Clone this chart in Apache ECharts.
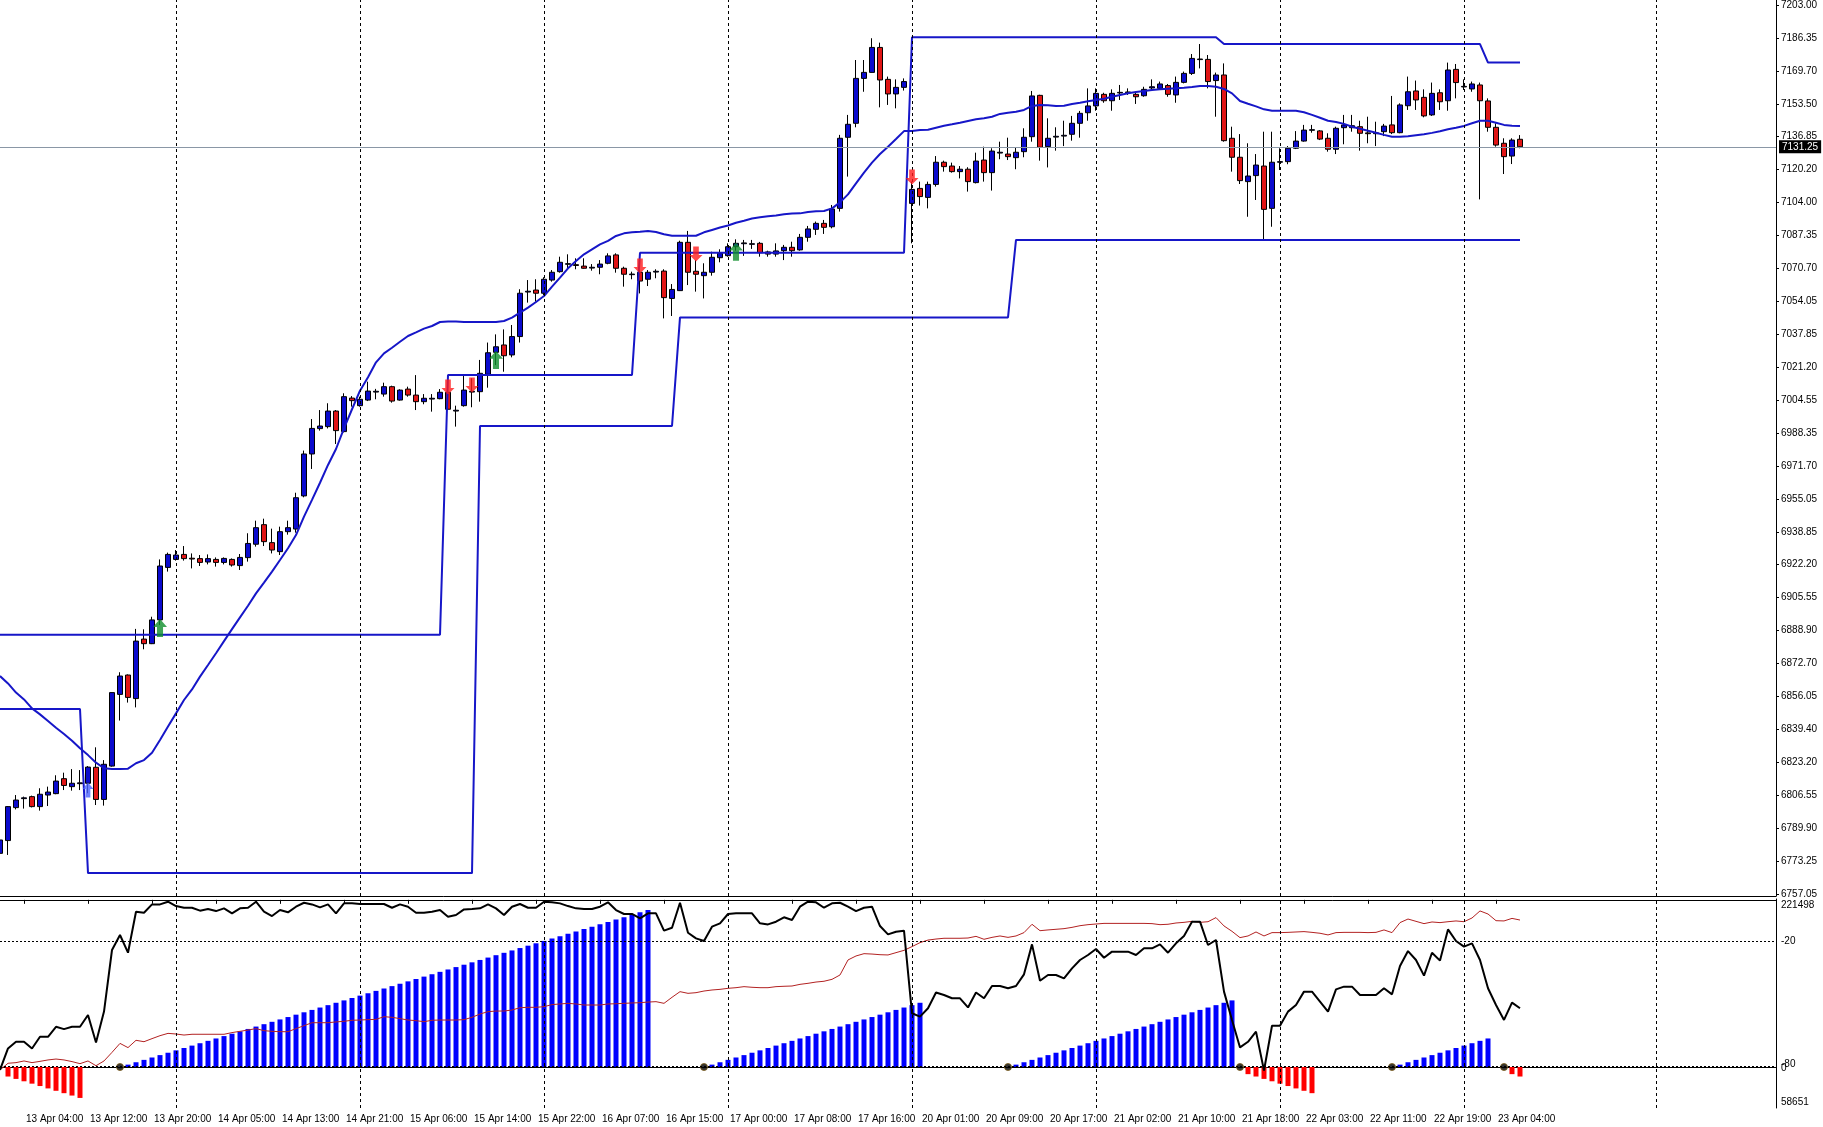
<!DOCTYPE html>
<html><head><meta charset="utf-8">
<script src="https://cdn.jsdelivr.net/npm/echarts/dist/echarts.min.js"></script>
<style>html,body{margin:0;padding:0;background:#fff;}#chart{width:1823px;height:1127px;}</style>
</head><body><div id="chart"></div>
<script>
// ---------- DATA ----------
const priceTicks = ['6757.05','6773.25','6789.90','6806.55','6823.20','6839.40','6856.05','6872.70','6888.90','6905.55','6922.20','6938.85','6955.05','6971.70','6988.35','7004.55','7021.20','7037.85','7054.05','7070.70','7087.35','7104.00','7120.20','7136.85','7153.50','7169.70','7186.35','7203.00'];
const timeLabels = ['13 Apr 04:00','13 Apr 12:00','13 Apr 20:00','14 Apr 05:00','14 Apr 13:00','14 Apr 21:00','15 Apr 06:00','15 Apr 14:00','15 Apr 22:00','16 Apr 07:00','16 Apr 15:00','17 Apr 00:00','17 Apr 08:00','17 Apr 16:00','20 Apr 01:00','20 Apr 09:00','20 Apr 17:00','21 Apr 02:00','21 Apr 10:00','21 Apr 18:00','22 Apr 03:00','22 Apr 11:00','22 Apr 19:00','23 Apr 04:00'];
const openP = [6777.4,6783.8,6800.3,6804.8,6805.8,6800.8,6806.6,6807.3,6814.8,6810.8,
6812.3,6812.5,6820.5,6804.4,6821.1,6857.0,6866.7,6854.9,6884.7,6882.4,
6894.3,6920.6,6924.6,6927.1,6925.2,6925.0,6923.3,6924.6,6923.1,6924.6,
6921.5,6925.5,6932.2,6942.0,6933.0,6928.5,6938.5,6939.8,6956.4,6977.4,
6990.1,6991.1,6998.9,6988.6,7005.4,7001.6,7004.4,7008.4,7007.4,7011.1,
7004.4,7009.9,7006.9,7003.6,7004.9,7005.1,7008.3,6998.9,7001.6,7008.4,
7008.6,7017.3,7028.3,7032.0,7027.0,7036.2,7058.5,7059.5,7057.9,7064.5,
7068.7,7072.4,7072.2,7071.5,7070.5,7070.9,7072.9,7077.1,7070.4,7067.2,
7068.4,7064.9,7068.5,7069.0,7055.3,7059.2,7083.4,7068.9,7066.7,7068.4,
7075.7,7076.7,7081.2,7082.7,7082.4,7082.9,7078.6,7077.5,7079.2,7080.9,
7079.6,7085.9,7089.9,7092.9,7091.2,7100.4,7136.0,7143.0,7165.5,7168.5,
7181.0,7165.0,7157.7,7161.0,7102.9,7110.4,7105.9,7112.4,7123.5,7121.6,
7118.8,7120.0,7113.3,7124.6,7118.3,7128.1,7127.6,7125.8,7128.8,7136.3,
7157.0,7131.3,7136.1,7136.6,7137.5,7143.0,7148.3,7151.7,7157.5,7154.3,
7158.2,7158.3,7157.5,7156.8,7160.7,7160.5,7161.9,7157.2,7163.5,7168.0,
7174.9,7175.0,7164.4,7167.2,7135.5,7126.0,7113.8,7116.8,7121.6,7100.4,
7123.5,7123.8,7130.5,7134.1,7139.5,7139.2,7135.5,7130.0,7140.8,7140.8,
7141.3,7138.2,7137.8,7138.8,7142.2,7138.3,7151.8,7159.2,7156.0,7147.2,
7158.3,7154.3,7170.0,7161.2,7160.2,7162.2,7154.2,7141.0,7133.0,7126.6,
7135.0];
const highP = [6785.5,6801.1,6806.6,6805.8,6806.3,6810.0,6810.8,6816.5,6817.8,6819.6,
6819.1,6821.1,6830.5,6824.1,6858.0,6868.1,6867.0,6889.8,6889.6,6895.9,
6924.6,6928.0,6929.3,6931.3,6927.6,6926.8,6927.1,6925.6,6925.6,6925.1,
6927.3,6937.7,6944.0,6945.0,6940.0,6941.0,6944.0,6958.0,6979.1,6994.9,
6999.4,7002.8,6999.4,7007.8,7006.4,7006.1,7013.6,7010.0,7013.1,7011.6,
7009.8,7011.1,7016.9,7007.4,7007.4,7009.9,7010.3,7001.6,7016.9,7015.3,
7024.5,7033.2,7037.3,7039.8,7042.0,7059.9,7064.5,7064.9,7065.9,7069.5,
7076.2,7077.4,7075.4,7075.4,7072.5,7074.5,7077.9,7077.9,7071.2,7068.7,
7069.5,7069.5,7069.9,7069.9,7062.5,7084.2,7089.1,7074.5,7072.9,7078.7,
7079.9,7082.9,7084.9,7084.6,7084.6,7083.6,7079.2,7082.9,7082.1,7083.7,
7087.6,7091.6,7093.8,7094.6,7102.1,7137.2,7147.2,7174.7,7174.7,7185.6,
7183.4,7166.4,7165.0,7165.5,7113.8,7113.8,7113.8,7126.6,7124.3,7123.3,
7121.6,7121.0,7128.3,7131.3,7130.5,7133.8,7135.8,7131.0,7140.5,7159.2,
7157.3,7145.5,7141.0,7144.3,7146.7,7149.2,7160.5,7160.5,7158.3,7160.0,
7162.2,7160.5,7158.8,7161.3,7165.0,7163.9,7162.7,7166.4,7168.9,7177.7,
7182.7,7177.2,7168.4,7173.0,7141.3,7137.6,7133.0,7127.6,7138.8,7138.8,
7130.5,7131.6,7139.1,7142.2,7142.2,7139.6,7138.0,7141.3,7147.2,7147.2,
7144.3,7146.3,7143.8,7142.7,7156.7,7153.0,7166.4,7164.4,7160.0,7163.4,
7160.0,7173.4,7172.7,7165.0,7163.9,7163.4,7155.5,7143.0,7135.5,7135.5,
7137.1];
const lowP = [6772.0,6776.6,6799.4,6799.8,6800.4,6798.8,6801.1,6807.0,6809.1,6808.8,
6809.1,6807.5,6801.6,6801.3,6820.8,6843.9,6852.9,6850.5,6879.6,6882.2,
6891.8,6918.5,6924.0,6924.0,6920.1,6921.3,6922.1,6921.0,6922.1,6921.0,
6919.3,6923.5,6931.0,6931.3,6927.6,6926.8,6937.0,6938.0,6955.7,6969.9,
6989.1,6990.2,6982.4,6988.2,7001.1,7001.1,7003.9,7004.8,7006.1,7003.1,
7004.1,7006.1,6999.4,7002.3,6998.6,7004.8,6999.4,6991.1,7001.1,7000.8,
7003.6,7010.6,7021.9,7018.6,7025.8,7033.2,7053.2,7053.7,7057.0,7063.7,
7068.2,7069.9,7069.9,7070.2,7069.2,7067.4,7072.4,7068.2,7061.2,7064.9,
7057.8,7061.5,7065.4,7045.3,7046.5,7059.0,7062.0,7058.7,7055.3,7066.7,
7073.4,7076.2,7079.2,7076.6,7080.1,7076.2,7076.2,7076.2,7074.5,7076.2,
7079.2,7083.7,7087.1,7087.6,7090.4,7098.8,7116.3,7141.0,7158.8,7168.4,
7151.0,7152.2,7150.5,7159.4,7082.9,7101.8,7100.4,7111.3,7118.8,7118.3,
7115.4,7108.8,7112.9,7113.8,7109.3,7125.0,7124.6,7120.0,7126.0,7133.8,
7124.3,7120.9,7129.3,7131.6,7134.3,7135.8,7144.3,7149.3,7153.3,7149.3,
7154.7,7157.2,7152.7,7156.3,7159.7,7159.7,7156.3,7153.3,7163.0,7167.2,
7170.5,7160.5,7146.3,7133.8,7118.8,7112.6,7096.2,7104.6,7084.2,7091.2,
7119.6,7122.5,7130.1,7133.8,7138.3,7134.6,7128.8,7127.6,7132.5,7138.8,
7129.3,7133.0,7131.6,7136.6,7137.6,7138.0,7149.7,7149.7,7146.0,7146.7,
7149.7,7149.3,7155.5,7159.7,7158.8,7104.9,7138.8,7131.3,7117.6,7122.6,
7130.5];
const closeP = [6784.1,6800.8,6804.1,6805.2,6800.8,6807.0,6808.1,6813.6,6811.4,6812.5,
6812.7,6820.6,6804.4,6822.0,6857.9,6866.2,6855.5,6883.7,6882.4,6894.3,
6921.3,6927.1,6926.8,6925.0,6924.8,6923.1,6925.0,6923.1,6925.1,6921.8,
6925.6,6932.6,6940.5,6933.5,6929.3,6938.5,6940.5,6955.5,6977.4,6990.2,
6991.4,6998.9,6989.1,7006.1,7004.1,7004.8,7008.9,7008.8,7011.1,7003.9,
7009.4,7006.9,7003.6,7005.3,7005.3,7008.3,6999.8,6999.3,7009.4,7008.8,
7017.8,7028.1,7031.1,7026.6,7036.2,7057.9,7058.9,7057.9,7064.9,7068.4,
7073.4,7072.7,7071.8,7070.4,7070.9,7072.5,7076.6,7070.4,7067.4,7067.5,
7064.0,7068.4,7068.9,7055.7,7059.8,7083.4,7068.4,7067.4,7068.4,7075.9,
7077.9,7081.2,7082.9,7083.1,7082.7,7078.2,7077.5,7079.1,7080.9,7079.2,
7085.9,7090.1,7092.9,7090.9,7100.1,7135.5,7142.5,7165.5,7168.5,7181.0,
7164.7,7157.7,7161.0,7163.9,7109.9,7106.3,7112.4,7123.5,7121.3,7118.8,
7120.0,7113.8,7124.1,7118.3,7129.1,7128.5,7126.3,7128.5,7136.0,7156.7,
7131.0,7135.5,7136.5,7137.0,7143.0,7148.0,7151.7,7158.0,7154.3,7158.0,
7158.5,7158.7,7156.3,7160.0,7161.3,7162.7,7157.5,7163.5,7168.0,7175.5,
7175.2,7163.9,7167.2,7134.3,7126.0,7114.3,7116.6,7122.1,7099.9,7123.5,
7123.8,7130.5,7134.1,7139.6,7139.8,7135.1,7130.0,7140.5,7142.2,7141.8,
7138.0,7137.8,7138.2,7141.6,7138.3,7152.2,7158.8,7154.7,7146.7,7158.0,
7153.8,7169.7,7163.4,7161.5,7162.7,7154.3,7141.0,7132.1,7126.3,7134.6,
7131.25];
const maLine = [6866.2,6862.5,6857.9,6854.5,6850.0,6847.0,6843.7,6840.3,6837.2,6833.8,
6830.0,6826.6,6822.8,6820.0,6819.6,6819.6,6819.8,6822.5,6824.1,6827.8,
6834.2,6840.9,6847.5,6854.2,6859.5,6865.9,6871.7,6877.6,6883.7,6889.7,
6895.6,6901.4,6907.6,6913.0,6918.5,6924.3,6930.2,6936.8,6946.0,6954.4,
6963.0,6971.9,6979.9,6990.2,6999.8,7009.1,7015.8,7023.3,7027.8,7030.6,
7033.6,7036.5,7038.3,7040.2,7041.5,7043.5,7043.7,7043.7,7043.5,7043.5,
7043.5,7043.5,7043.5,7044.0,7045.7,7048.2,7050.7,7053.5,7056.5,7061.2,
7065.7,7070.4,7074.0,7077.4,7079.9,7082.4,7084.1,7086.6,7087.9,7088.4,
7088.7,7089.1,7088.6,7087.4,7086.7,7086.7,7086.7,7086.7,7088.4,7089.6,
7090.8,7091.8,7093.2,7094.2,7095.3,7095.9,7096.4,7096.8,7097.4,7097.8,
7097.9,7098.6,7098.9,7099.1,7100.4,7103.4,7107.4,7112.9,7118.3,7123.3,
7127.6,7131.3,7135.1,7139.1,7139.1,7139.6,7139.8,7140.8,7141.8,7142.5,
7143.3,7144.2,7145.0,7145.5,7146.3,7147.7,7148.3,7148.8,7149.7,7151.7,
7152.2,7152.0,7151.7,7151.8,7152.7,7153.3,7154.0,7154.7,7155.3,7156.3,
7157.2,7158.0,7158.7,7159.2,7159.7,7160.0,7160.3,7160.5,7160.8,7161.2,
7161.7,7161.7,7161.3,7160.2,7158.0,7154.2,7152.8,7151.5,7150.0,7149.3,
7149.3,7149.3,7149.3,7148.5,7147.2,7145.8,7144.3,7143.7,7142.7,7141.3,
7140.3,7139.3,7138.3,7137.2,7136.3,7136.3,7136.5,7137.0,7137.5,7138.2,
7139.0,7140.0,7140.8,7141.7,7143.0,7144.3,7144.3,7143.3,7142.2,7141.8,
7141.7];
// channel levels: bar index where each level starts, and the level
const upperStarts = [0, 56, 80, 114, 153, 186];
const upperLevels = [6886.9, 7017.0, 7078.2, 7186.1, 7182.7, 7173.4];
const lowerStarts = [0, 11, 60, 85, 127];
const lowerLevels = [6849.7, 6767.5, 6991.4, 7045.8, 7084.6];
// signal arrows
const buyBars = [20, 62, 92];
const buyPrices = [6890.2, 7024.5, 7078.7];
const sellBars = [56, 59, 80, 87, 114];
const sellPrices = [7010.9, 7011.9, 7071.5, 7077.5, 7116.1];
const blueBars = [11];
const bluePrices = [6809.1];
const dayLines = [22, 45, 68, 91, 114, 137, 160, 183, 207];
const currentPrice = 7131.25;
// lower window
const wpr = [-81.7,-71.4,-68.2,-68.2,-71.4,-65.8,-65.8,-61.0,-62.1,-61.0,
-61.0,-55.3,-68.5,-53.7,-24.1,-16.9,-25.4,-5.7,-6.2,-2.2,
-2.2,-0.9,-3.0,-3.8,-3.8,-5.2,-4.4,-5.4,-4.1,-6.5,
-4.1,-3.8,-0.9,-5.7,-7.8,-4.9,-6.0,-3.3,-1.4,-2.2,
-3.6,-2.2,-6.5,-1.7,-1.7,-2.0,-2.0,-2.0,-2.0,-3.8,
-2.2,-3.3,-6.2,-6.2,-5.7,-4.9,-8.1,-7.3,-4.6,-4.4,
-4.1,-2.2,-4.1,-7.3,-3.3,-2.0,-3.8,-3.8,-0.9,-1.2,
-1.7,-3.0,-4.1,-4.4,-4.4,-3.3,-1.2,-4.9,-6.8,-6.8,
-8.9,-6.5,-6.5,-14.8,-13.4,-1.4,-15.8,-18.5,-19.8,-12.9,
-11.3,-6.8,-6.5,-6.5,-6.5,-11.3,-11.8,-10.5,-8.4,-9.7,
-3.3,-0.9,-1.2,-3.8,-1.7,-1.4,-3.3,-5.4,-3.8,-3.3,
-12.6,-16.6,-15.3,-14.8,-54.5,-56.1,-52.1,-44.5,-45.7,-47.3,
-47.3,-51.7,-44.5,-47.3,-41.4,-41.4,-42.5,-41.4,-35.8,-21.4,
-38.9,-36.1,-36.1,-37.7,-32.9,-28.9,-26.5,-23.6,-27.8,-24.9,
-24.9,-24.9,-26.5,-23.3,-23.3,-21.4,-25.4,-20.9,-17.4,-10.5,
-10.5,-21.7,-19.3,-44.1,-57.7,-70.9,-68.2,-63.3,-82.0,-60.5,
-60.5,-53.7,-50.5,-44.1,-44.1,-48.9,-53.7,-43.0,-41.7,-41.7,
-45.7,-45.7,-45.7,-42.5,-45.4,-31.8,-24.6,-28.9,-36.4,-25.4,
-29.2,-14.2,-19.8,-22.5,-20.9,-28.9,-42.5,-50.5,-57.7,-49.4,
-52.1];
const volLine = [88300,93500,94000,95300,94000,95000,96100,96800,96100,94800,
93200,95300,91600,95300,102000,109000,105700,111400,110300,112700,
115000,116800,116300,115500,116100,116100,116100,116100,116100,117400,
118400,119400,120500,118900,118400,118100,118100,120500,122800,125100,
125100,125100,125700,126200,127000,127200,127500,127700,129800,129300,
128300,127200,126700,125900,127000,127200,127200,127200,127500,129300,
131900,133700,134200,134200,135000,136800,137100,137100,137600,139200,
139700,140200,139700,138900,138900,138900,139700,139900,140200,140500,
140700,141200,141500,140200,144900,149300,148000,148500,149800,150600,
151100,151900,152400,153200,152700,152400,152400,153200,153500,153700,
155000,155800,156800,157400,158900,162300,174000,177100,178900,178600,
178100,177900,179700,181500,184400,187500,189500,190300,190900,190900,
190900,191100,192400,190100,191600,192700,191600,192700,195300,201800,
196800,197400,197900,198400,199400,200700,201500,202000,202500,202500,
202500,202500,202500,202500,202300,201500,201800,202800,203300,204100,
203300,203800,207000,200500,196300,191400,192700,195800,192700,195300,
195300,195500,195800,196100,195500,194800,193500,195300,195500,195500,
195500,195300,195500,197400,195300,203100,205900,204100,202300,203600,
203100,203800,204400,203800,206700,212200,209800,204600,204400,206400,
205100];
const histCounts = [null,-4,-5,-6,-7,-8,-9,-10,-11,-12,
-13,null,null,null,null,0,1,2,3,4,
5,6,7,8,9,10,11,12,13,14,
15,16,17,18,19,20,21,22,23,24,
25,26,27,28,29,30,31,32,33,34,
35,36,37,38,39,40,41,42,43,44,
45,46,47,48,49,50,51,52,53,54,
55,56,57,58,59,60,61,62,63,64,
65,66,null,null,null,null,null,null,0,1,
2,3,4,5,6,7,8,9,10,11,
12,13,14,15,16,17,18,19,20,21,
22,23,24,25,26,27,null,null,null,null,
null,null,null,null,null,null,0,1,2,3,
4,5,6,7,8,9,10,11,12,13,
14,15,16,17,18,19,20,21,22,23,
24,25,26,27,28,0,-3,-4,-5,-6,
-7,-8,-9,-10,-11,null,null,null,null,null,
null,null,null,null,0,1,2,3,4,5,
6,7,8,9,10,11,12,null,0,-3,
-4];
const lowerAxisLabels = [['221498', -2.8], ['-20', -20.1], ['-80', -79.1], ['0', -81.0], ['58651', -97.1]];

// ---------- BUILD ----------
const N_CATS = 223;
const N_BARS = openP.length;
const cats = Array.from({length: N_CATS}, (_, i) => String(i));
const candles = openP.map((o, i) => [o, closeP[i], lowP[i], highP[i]]);
function expandSteps(starts, levels, n) {
  const out = []; let j = 0;
  for (let i = 0; i < n; i++) { while (j + 1 < starts.length && i >= starts[j + 1]) j++; out.push(levels[j]); }
  return out;
}
const upperLine = expandSteps(upperStarts, upperLevels, N_BARS);
const lowerLine = expandSteps(lowerStarts, lowerLevels, N_BARS);
const dotData = histCounts.map((v, i) => v === 0 ? [i, 0] : null).filter(d => d);
const labelAt = (i) => i >= 3 && i <= 187 && (i - 3) % 8 === 0;
const FONT = 'Liberation Sans';
const BLUE = '#1616c8';
const arrowPath = 'path://M6,0 L12,7 L8.6,7 L8.6,16 L3.4,16 L3.4,7 L0,7 Z';
const PLOT_W = 1776;

const chart = echarts.init(document.getElementById('chart'), null, {renderer: 'canvas'});
const catAxis = (extra) => Object.assign({type: 'category', data: cats, boundaryGap: false,
  axisLine: {show: false}, axisTick: {show: false}, axisLabel: {show: false}, splitLine: {show: false}}, extra);
const option = {
  animation: false,
  backgroundColor: '#ffffff',
  textStyle: {fontFamily: FONT},
  grid: [
    {left: 0, top: 0, width: PLOT_W, height: 896},
    {left: 0, top: 899, width: PLOT_W, height: 209},
    {left: 0, top: 3.5, width: PLOT_W, height: 890.5}
  ],
  xAxis: [
    catAxis({gridIndex: 0, axisLine: {show: true, lineStyle: {color: '#000', width: 1}}}),
    catAxis({gridIndex: 1, position: 'bottom',
     axisLine: {show: true, lineStyle: {color: '#000', width: 1}},
     axisTick: {show: true, interval: labelAt, length: 4, lineStyle: {color: '#000'}},
     axisLabel: {show: true, interval: labelAt, align: 'left', margin: 6, padding: [0, 0, 0, 2],
       fontSize: 10, fontFamily: FONT, color: '#000',
       formatter: (v) => { const k = (Number(v) - 3) / 8; return timeLabels[k] || ''; }}}),
    catAxis({gridIndex: 1, position: 'top', axisLine: {show: true, lineStyle: {color: '#000', width: 1}}}),
    catAxis({gridIndex: 2, show: false})
  ],
  yAxis: [
    {type: 'value', gridIndex: 0, min: 6756.04, max: 7204.75, position: 'right',
     axisLine: {show: true, lineStyle: {color: '#000'}}, axisTick: {show: false}, axisLabel: {show: false}, splitLine: {show: false}},
    {type: 'value', gridIndex: 1, min: -100, max: 0.4, position: 'right',
     axisLine: {show: true, lineStyle: {color: '#000'}}, axisTick: {show: false}, axisLabel: {show: false}, splitLine: {show: false}},
    {type: 'value', gridIndex: 1, min: -17.23, max: 70.62, show: false, splitLine: {show: false}},
    {type: 'value', gridIndex: 1, min: 58651, max: 221498, show: false, splitLine: {show: false}},
    {type: 'value', gridIndex: 2, min: 0, max: 27, interval: 1, position: 'right',
     axisLine: {show: false}, axisTick: {show: true, length: 3, lineStyle: {color: '#000'}},
     axisLabel: {show: true, margin: 5, fontSize: 10, fontFamily: FONT, color: '#000',
       formatter: (v) => priceTicks[Math.round(v)] || ''},
     splitLine: {show: false}}
  ],
  series: [
    {type: 'line', xAxisIndex: 0, yAxisIndex: 0, data: [], z: 1, silent: true,
     markLine: {silent: true, symbol: ['none', 'none'], animation: false,
       lineStyle: {color: '#000', type: [3, 3], width: 1},
       label: {show: false},
       data: dayLines.map(d => ({xAxis: d})).concat([{
         yAxis: currentPrice, lineStyle: {color: '#8a97a6', type: 'solid', width: 1},
         label: {show: true, position: 'end', distance: 3, formatter: currentPrice.toFixed(2),
           color: '#fff', backgroundColor: '#000', padding: [2, 3, 1, 3], fontSize: 10, fontFamily: FONT}
       }])}},
    {type: 'candlestick', xAxisIndex: 0, yAxisIndex: 0, data: candles, barWidth: 5, z: 2,
     itemStyle: {color: '#0a0acd', color0: '#e01515', borderColor: '#000', borderColor0: '#000', borderColorDoji: '#000', borderWidth: 1}},
    {type: 'line', xAxisIndex: 0, yAxisIndex: 0, data: upperLine, symbol: 'none', z: 3,
     lineStyle: {color: BLUE, width: 2}},
    {type: 'line', xAxisIndex: 0, yAxisIndex: 0, data: lowerLine, symbol: 'none', z: 3,
     lineStyle: {color: BLUE, width: 2}},
    {type: 'line', xAxisIndex: 0, yAxisIndex: 0, data: maLine, symbol: 'none', z: 3,
     lineStyle: {color: BLUE, width: 2}},
    {type: 'scatter', xAxisIndex: 0, yAxisIndex: 0, z: 5, symbol: arrowPath, symbolSize: [14, 18],
     itemStyle: {color: '#0f8f2c'}, data: buyBars.map((b, i) => [b, buyPrices[i]])},
    {type: 'scatter', xAxisIndex: 0, yAxisIndex: 0, z: 5, symbol: arrowPath, symbolSize: [13, 15], symbolRotate: 180,
     itemStyle: {color: '#ff1c1c'}, data: sellBars.map((b, i) => [b, sellPrices[i]])},
    {type: 'scatter', xAxisIndex: 0, yAxisIndex: 0, z: 5, symbol: arrowPath, symbolSize: [11, 15],
     itemStyle: {color: '#4a62ff'}, data: blueBars.map((b, i) => [b, bluePrices[i]])},
    // lower window
    {type: 'line', xAxisIndex: 1, yAxisIndex: 1, data: [], z: 1, silent: true,
     markLine: {silent: true, symbol: ['none', 'none'], animation: false,
       lineStyle: {color: '#000', type: [3, 3], width: 1},
       label: {show: false},
       data: dayLines.map(d => ({xAxis: d}))
         .concat([{yAxis: -20, lineStyle: {type: [2, 2], color: '#000'}}, {yAxis: -80, lineStyle: {type: [2, 2], color: '#000'}}])
         .concat(lowerAxisLabels.map(([t, v]) => ({yAxis: v, lineStyle: {color: 'rgba(0,0,0,0)', width: 1, type: 'solid'},
           label: {show: true, position: 'end', distance: 5, formatter: t, color: '#000', fontSize: 10, fontFamily: FONT}})))}},
    {type: 'bar', xAxisIndex: 1, yAxisIndex: 2, data: histCounts, barWidth: 5, z: 2,
     itemStyle: {color: (p) => (p.value >= 0 ? '#0000ff' : '#ff0000')}},
    {type: 'scatter', xAxisIndex: 1, yAxisIndex: 2, data: dotData, symbol: 'circle', symbolSize: 7, z: 4,
     itemStyle: {color: '#000', borderColor: '#7a5a14', borderWidth: 1}},
    {type: 'line', xAxisIndex: 1, yAxisIndex: 3, data: volLine, symbol: 'none', z: 3,
     lineStyle: {color: '#b22222', width: 1}},
    {type: 'line', xAxisIndex: 1, yAxisIndex: 1, data: wpr, symbol: 'none', z: 3,
     lineStyle: {color: '#000', width: 2}},
    {type: 'line', xAxisIndex: 3, yAxisIndex: 4, data: [], silent: true}
  ]
};
chart.setOption(option);
</script></body></html>
